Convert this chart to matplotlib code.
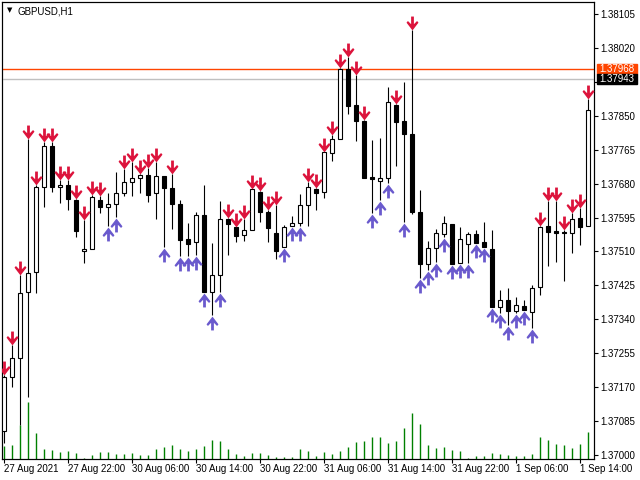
import matplotlib.pyplot as plt
import matplotlib.transforms as mtransforms
from matplotlib.patches import Rectangle
import numpy as np

plt.rcParams['font.family'] = ['Liberation Sans', 'DejaVu Sans']

#--------------------------------
# GBPUSD H1, 27 Aug 14:00 .. 1 Sep 15:00
opens = [1.37060, 1.37195, 1.37243, 1.37408, 1.37458, 1.37671, 1.37774, 1.37671, 1.37676, 1.37639,
         1.37511, 1.37516, 1.37639, 1.37621, 1.37629, 1.37656, 1.37684, 1.37694, 1.37702, 1.37656,
         1.37699, 1.37669, 1.37629, 1.37541, 1.37534, 1.37601, 1.37408, 1.37451, 1.37591, 1.37571,
         1.37551, 1.37564, 1.37659, 1.37609, 1.37556, 1.37521, 1.37574, 1.37581, 1.37626, 1.37666,
         1.37659, 1.37757, 1.37792, 1.37967, 1.37877, 1.37837, 1.37696, 1.37686, 1.37694, 1.37877,
         1.37837, 1.37804, 1.37609, 1.37478, 1.37519, 1.37554, 1.37579, 1.37481, 1.37529, 1.37554,
         1.37534, 1.37516, 1.37371, 1.37388, 1.37361, 1.37373, 1.37358, 1.37421, 1.37574, 1.37561,
         1.37559, 1.37556, 1.37594, 1.37574]
highs = [1.37200, 1.37276, 1.37451, 1.37792, 1.37676, 1.37784, 1.37784, 1.37689, 1.37689, 1.37641,
         1.37589, 1.37651, 1.37649, 1.37656, 1.37709, 1.37717, 1.37734, 1.37704, 1.37719, 1.37734,
         1.37699, 1.37704, 1.37639, 1.37581, 1.37609, 1.37676, 1.37531, 1.37636, 1.37594, 1.37571,
         1.37591, 1.37666, 1.37661, 1.37614, 1.37626, 1.37576, 1.37599, 1.37654, 1.37684, 1.37669,
         1.37759, 1.37802, 1.37970, 1.37997, 1.37952, 1.37839, 1.37789, 1.37794, 1.37922, 1.37879,
         1.37935, 1.38065, 1.37664, 1.37536, 1.37566, 1.37599, 1.37579, 1.37571, 1.37559, 1.37564,
         1.37584, 1.37564, 1.37413, 1.37418, 1.37396, 1.37388, 1.37426, 1.37574, 1.37636, 1.37636,
         1.37564, 1.37606, 1.37619, 1.37892]
lows = [1.37030, 1.37170, 1.37075, 1.37145, 1.37406, 1.37621, 1.37659, 1.37631, 1.37614, 1.37546,
        1.37481, 1.37516, 1.37606, 1.37574, 1.37596, 1.37649, 1.37649, 1.37656, 1.37634, 1.37591,
        1.37521, 1.37566, 1.37498, 1.37498, 1.37501, 1.37408, 1.37351, 1.37408, 1.37501, 1.37534,
        1.37536, 1.37564, 1.37584, 1.37534, 1.37491, 1.37521, 1.37574, 1.37574, 1.37574, 1.37614,
        1.37644, 1.37737, 1.37792, 1.37854, 1.37787, 1.37694, 1.37606, 1.37639, 1.37681, 1.37724,
        1.37584, 1.37604, 1.37443, 1.37463, 1.37483, 1.37546, 1.37478, 1.37481, 1.37481, 1.37531,
        1.37521, 1.37371, 1.37356, 1.37326, 1.37356, 1.37363, 1.37318, 1.37401, 1.37473, 1.37483,
        1.37436, 1.37506, 1.37526, 1.37574]
closes = [1.37195, 1.37243, 1.37406, 1.37456, 1.37671, 1.37774, 1.37671, 1.37676, 1.37641, 1.37561,
          1.37516, 1.37646, 1.37621, 1.37629, 1.37656, 1.37684, 1.37694, 1.37702, 1.37651, 1.37699,
          1.37669, 1.37629, 1.37539, 1.37529, 1.37601, 1.37408, 1.37451, 1.37591, 1.37579, 1.37549,
          1.37564, 1.37666, 1.37609, 1.37569, 1.37511, 1.37571, 1.37581, 1.37626, 1.37671, 1.37656,
          1.37759, 1.37792, 1.37967, 1.37874, 1.37837, 1.37694, 1.37692, 1.37694, 1.37884, 1.37834,
          1.37804, 1.37609, 1.37478, 1.37519, 1.37556, 1.37581, 1.37478, 1.37541, 1.37554, 1.37531,
          1.37521, 1.37371, 1.37388, 1.37361, 1.37376, 1.37363, 1.37418, 1.37571, 1.37559, 1.37556,
          1.37556, 1.37591, 1.37571, 1.37864]
volumes = [650, 700, 1700, 2850, 1300, 500, 450, 350, 400, 300,
           50, 200, 350, 350, 250, 250, 300, 200, 200, 500,
           600, 700, 500, 400, 500, 650, 950, 900, 500, 250,
           150, 300, 300, 200, 100, 100, 100, 500, 400, 150,
           350, 250, 400, 600, 850, 900, 1100, 1100, 800, 900,
           1550, 2300, 1750, 700, 550, 600, 450, 400, 50, 150,
           150, 300, 250, 200, 150, 150, 250, 1100, 950, 750,
           700, 550, 750, 1350]
# d = sell arrow above the bar, u = buy arrow below the bar
signals = list("ddddddddddddd" "uu" "ddddd" "u" "d" "uuuuuu" "ddddddd" "uuu"
               "dddddddd" "uuu" "d" "u" "d" "uuuuuuuuuuuuuuu" "ddddddd")

date_ticks = [0, 8, 16, 24, 32, 40, 48, 56, 64, 72]
date_labels = ["27 Aug 2021", "27 Aug 22:00", "30 Aug 06:00", "30 Aug 14:00", "30 Aug 22:00",
               "31 Aug 06:00", "31 Aug 14:00", "31 Aug 22:00", "1 Sep 06:00", "1 Sep 14:00"]
price_ticks = [1.38105, 1.38020, 1.37935, 1.37850, 1.37765, 1.37680, 1.37595,
               1.37510, 1.37425, 1.37340, 1.37255, 1.37170, 1.37085, 1.37000]
# 1.37935 sits under the ask box on the scale
price_labels = ["1.38105", "1.38020", "", "1.37850", "1.37765", "1.37680", "1.37595",
                "1.37510", "1.37425", "1.37340", "1.37255", "1.37170", "1.37085", "1.37000"]
line_prices = [1.37968, 1.37943]

#--------------------------------
# figure set up like the terminal window
fig = plt.figure(figsize=(6.4, 4.8), dpi=100)
ax = fig.add_axes([2/640, 21/480, 592/640, 457/480])
ax2 = ax.twinx()
ax.set_zorder(ax2.get_zorder() + 1)
ax.patch.set_visible(False)

x = np.arange(len(opens))
o = np.array(opens)
h = np.array(highs)
l = np.array(lows)
c = np.array(closes)

# volumes along the bottom
ax2.vlines(x, 0, volumes, color='#008000', lw=1)
ax2.set_ylim(0, max(volumes) * 8.0)
ax2.set_yticks([])

#--------------------------------
# price lines
ax.axhline(line_prices[0], color='#ff4500', lw=1, zorder=1)
ax.axhline(line_prices[1], color='#c0c0c0', lw=1, zorder=1)

# candles
bull = c >= o
ax.vlines(x, l, h, color='black', lw=0.8, zorder=2)
ax.bar(x, np.abs(c - o), bottom=np.minimum(o, c), width=0.5,
       color=np.where(bull, 'white', 'black'), edgecolor='black', lw=0.8, zorder=3)

# signal arrows
down_arrow = [(-0.1, 0.5), (0.1, 0.5), (0.1, -0.05), (0.33, 0.18), (0.43, 0.06),
              (0, -0.5), (-0.43, 0.06), (-0.33, 0.18), (-0.1, -0.05), (-0.1, 0.5)]
up_arrow = [(px, -py) for px, py in down_arrow]
sig = np.array(signals)
above = mtransforms.offset_copy(ax.transData, fig=fig, x=0, y=5, units='points')
below = mtransforms.offset_copy(ax.transData, fig=fig, x=0, y=-5.5, units='points')
ax.plot(x[sig == 'd'], h[sig == 'd'], ls='none', marker=down_arrow, ms=10,
        color='#dc143c', mec='none', transform=above, zorder=4)
ax.plot(x[sig == 'u'], l[sig == 'u'], ls='none', marker=up_arrow, ms=10,
        color='#6a5acd', mec='none', transform=below, zorder=4)

#--------------------------------
# axes, ticks
ax.set_xlim(-0.19, 73.8)
ax.set_ylim(1.36990, 1.38135)
ax.yaxis.tick_right()
ax.set_yticks(price_ticks)
ax.set_yticklabels(price_labels)
ax.set_xticks(date_ticks)
ax.set_xticklabels(date_labels)
for lbl in ax.get_xticklabels():
    lbl.set_ha('left')
ax.tick_params(axis='y', direction='out', length=3, width=0.8, pad=1.5, labelsize=7)
ax.tick_params(axis='x', direction='out', length=3, width=0.8, pad=0.5, labelsize=7)
for sp in ax.spines.values():
    sp.set_linewidth(0.8)

# price boxes on the scale
trans = mtransforms.blended_transform_factory(ax.transAxes, ax.transData)
for price, col in zip(line_prices, ['#ff4500', 'black']):
    ax.add_patch(Rectangle((1.005, price - 0.000128), 0.068, 0.000256, transform=trans,
                           color=col, clip_on=False, zorder=5))
    ax.text(1.0095, price, f"{price:.5f}", transform=trans, color='white', fontsize=7,
            ha='left', va='center', clip_on=False, zorder=6)

#--------------------------------
# symbol label
fig.text(9.5/640, 1 - 10.5/480, '▼', fontsize=5, ha='center', va='center', family='DejaVu Sans')
fig.text(18/640, 1 - 11/480, 'GBPUSD,H1', fontsize=7, ha='left', va='center')

fig.savefig('out.png', dpi=100)
